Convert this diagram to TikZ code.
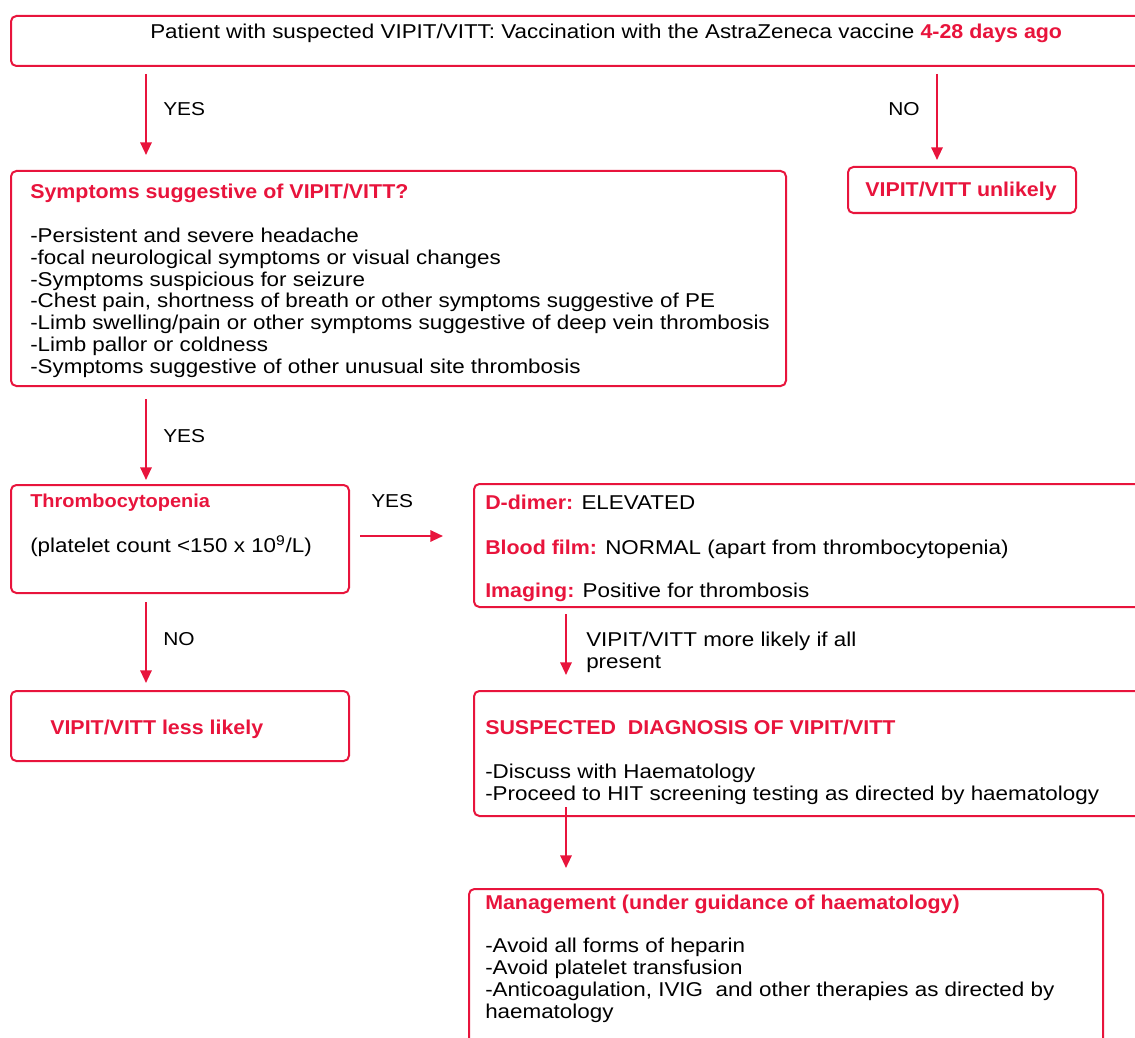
\documentclass[tikz,border=0pt]{standalone}
\usepackage{fontspec}
\setmainfont{Liberation Sans}[FakeStretch=1.12,BoldFeatures={FakeStretch=1.07}]
\usetikzlibrary{arrows.meta}
\definecolor{vred}{RGB}{232,20,60}

\begin{document}
\begin{tikzpicture}[x=0.75pt,y=-0.75pt,
  box/.style={draw=vred,line width=1.5pt,rounded corners=4pt,anchor=north west,inner sep=0pt},
  txt/.style={anchor=base west,inner sep=0pt,align=left,font=\fontsize{15}{16.3}\selectfont},
  hd/.style={text=vred,font=\bfseries\fontsize{15}{16.3}\selectfont},
  lbl/.style={anchor=base west,inner sep=0pt,font=\fontsize{14}{16.3}\selectfont},
  arr/.style={draw=vred,line width=1.5pt,-{Triangle[length=9.5pt,width=8.5pt]}}]
  \useasboundingbox (0,0) rectangle (1135,1038);
  % ---------- boxes ----------
  \node[box,minimum width=855pt,minimum height=37.5pt] (top) at (10,15) {};
  \node[box,minimum width=581.25pt,minimum height=161.25pt] (symp) at (10,170) {};
  \node[box,minimum width=171pt,minimum height=34.5pt] (unlik) at (847,166) {};
  \node[box,minimum width=253.5pt,minimum height=81pt] (thromb) at (10,484) {};
  \node[box,minimum width=507.75pt,minimum height=92.25pt] (ddim) at (473,483) {};
  \node[box,minimum width=253.5pt,minimum height=52.5pt] (less) at (10,690) {};
  \node[box,minimum width=507.75pt,minimum height=93.75pt] (susp) at (473,690) {};
  \node[box,minimum width=475.5pt,minimum height=150pt] (mgmt) at (468,888) {};
  % ---------- texts ----------
  \node[txt] (toptxt) at (150,39) {Patient with suspected VIPIT/VITT: Vaccination with the AstraZeneca vaccine \textcolor{vred}{\bfseries 4-28 days ago}};
  \node[txt,hd] (symphd) at (30,199) {Symptoms suggestive of VIPIT/VITT?};
  \node[txt] (symplist) at (30,373) {-Persistent and severe headache\\
    -focal neurological symptoms or visual changes\\
    -Symptoms suspicious for seizure\\
    -Chest pain, shortness of breath or other symptoms suggestive of PE\\
    -Limb swelling/pain or other symptoms suggestive of deep vein thrombosis\\
    -Limb pallor or coldness\\
    -Symptoms suggestive of other unusual site thrombosis};
  \node[txt,hd] (unliktxt) at (865,196) {VIPIT/VITT unlikely};
  \node[txt,hd,font=\bfseries\fontsize{14}{16.3}\selectfont] (thrombhd) at (30,507) {Thrombocytopenia};
  \node[txt] (thrombtxt) at (30,552) {(platelet count <150 x 10\textsuperscript{9}/L)};
  \node[txt] (ddimtxt) at (485,509) {\textcolor{vred}{\bfseries D-dimer:} ELEVATED};
  \node[txt] (filmtxt) at (485,554) {\textcolor{vred}{\bfseries Blood film:} NORMAL (apart from thrombocytopenia)};
  \node[txt] (imgtxt) at (485,597) {\textcolor{vred}{\bfseries Imaging:} Positive for thrombosis};
  \node[txt,hd] (lesstxt) at (50,734) {VIPIT/VITT less likely};
  \node[txt,hd] (susphd) at (485,734) {SUSPECTED\ \ DIAGNOSIS OF VIPIT/VITT};
  \node[txt] (susplist) at (485,800) {-Discuss with Haematology\\
    -Proceed to HIT screening testing as directed by haematology};
  \node[txt,hd] (mgmthd) at (485,909) {Management (under guidance of haematology)};
  \node[txt] (mgmtlist) at (485,1018) {-Avoid all forms of heparin\\
    -Avoid platelet transfusion\\
    -Anticoagulation, IVIG\ \ and other therapies as directed by\\
    haematology};
  % ---------- connectors ----------
  \coordinate (ca) at (146,0);
  \coordinate (cb) at (937,0);
  \coordinate (cc) at (566,0);
  \coordinate (cd) at (0,536);
  \draw[arr,shorten <=5.25pt,shorten >=11.25pt] (top.south -| ca) -- (symp.north -| ca);
  \draw[arr,shorten <=5.25pt,shorten >=4.5pt] (top.south -| cb) -- (unlik.north -| cb);
  \draw[arr,shorten <=9pt,shorten >=3pt] (symp.south -| ca) -- (thromb.north -| ca);
  \draw[arr,shorten <=6pt,shorten >=5.25pt] (thromb.south -| ca) -- (less.north -| ca);
  \draw[arr,shorten <=7.5pt,shorten >=22.5pt] (thromb.east |- cd) -- (ddim.west |- cd);
  \draw[arr,shorten <=4.5pt,shorten >=11.25pt] (ddim.south -| cc) -- (susp.north -| cc);
  \draw[arr,shorten <=-7.5pt,shorten >=15pt] (susp.south -| cc) -- (mgmt.north -| cc);
  % ---------- labels ----------
  \node[lbl] (yes1) at (163,116) {YES};
  \node[lbl] (no1) at (888,116) {NO};
  \node[lbl] (yes2) at (163,442) {YES};
  \node[lbl] (yes3) at (371,507) {YES};
  \node[lbl] (no2) at (163,645) {NO};
  \node[txt] (likely) at (586,668) {VIPIT/VITT more likely if all\\present};
\end{tikzpicture}
\end{document}
